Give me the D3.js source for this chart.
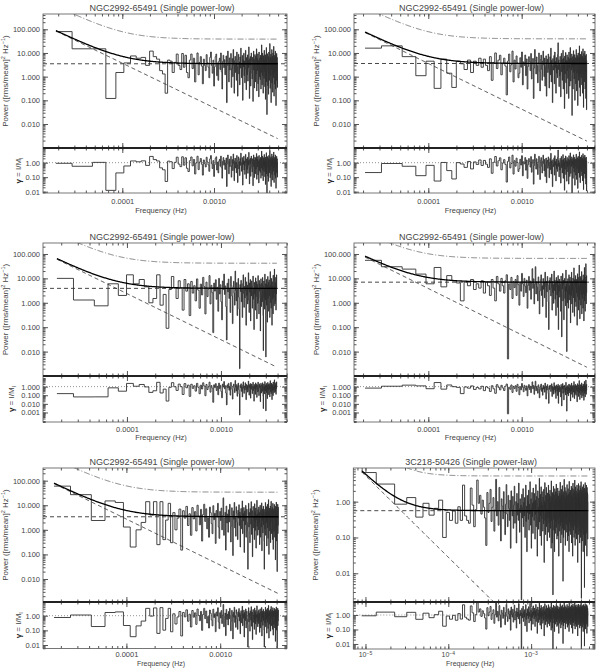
<!DOCTYPE html>
<html><head><meta charset="utf-8">
<script src="https://cdn.jsdelivr.net/npm/d3@7"></script>
<style>
body{margin:0;background:#fff}
svg text{font-family:"Liberation Sans",Arial,sans-serif;fill:#444}
.tick text{font-size:7.5px}
.tick line{stroke:#555}
.data{fill:none;stroke:#303030;stroke-width:0.9}
.model{fill:none;stroke:#000;stroke-width:1.3}
.pl{fill:none;stroke:#333;stroke-width:0.9;stroke-dasharray:4,3}
.sig{fill:none;stroke:#666;stroke-width:0.8;stroke-dasharray:6,2,1,2}
.unit{fill:none;stroke:#777;stroke-width:0.8;stroke-dasharray:1,2}
.box{fill:none;stroke:#555;stroke-width:0.8}
</style></head><body>
<script>
// power spectra (rms/mean)^2 Hz^-1, one value per Fourier frequency k*df
const power1=[80,15,15,0.12,1.5,3.8,7.5,6,6.5,3,12,7,5.5,1.8,1.3,0.2,5,4.5,1.5,4,9,3,2,9.5,2.5,8,1.5,0.9,5,9,
2.2,6,0.6,3.5,10,1.2,4,7,2.8,0.5,5.5,3,1.8,8.5,4,2.5,0.9,6.5,11,3,1.4,5,0.4,2.6,7,9,1.1,3.8,0.7,4.5,
6,2,10,1.6,0.3,4.4,8,2.4,5.2,1.2,3.3,7.5,0.08,2.9,12,4.1,0.6,6.2,1.9,3.6,9.5,0.35,2.2,5.8,1.0,14,3.1,0.2,4.8,7.2,
1.5,3.9,0.7,11,2.7,0.15,5.3,8.8,1.3,4.2,0.45,6.8,2.3,16,3.4,0.9,1.7,7.9,0.1,5,2.6,9.8,1.1,4.6,0.55,3.2,13,2.1,0.28,6.4,
3.7,1.2,8.3,0.65,4.9,2.4,18,1.6,0.12,5.7,3,7.1,0.4,2,10,4.3,1.4,0.8,6.6,2.9,0.09,4,12,1.9,5.4,0.33,3.5,8.6,2.2,0.6,
7.3,1.3,4.4,15,0.25,3.1,6,1.8,9.2,0.5,2.7,4.7,0.14,11,3.3,1.0,5.9,2.5,0.75,8.1,3.9,0.3,6.9,1.5,22,2.8,0.45,4.1,9.9,1.1,
3.6,0.2,7.7,2.3,5.1,0.85,13,1.7,4.5,0.38,2.9,8.4,0.11,6.3,3.2,1.2,17,0.6,4.8,0.025,2.1,5.5,9.3,1.6,0.42,3.8,7,0.18,2.6,11,
1.4,5.2,0.7,3.4,25,2,0.32,6.7,4,1.1,8.9,0.08,3,5.8,1.9,14,0.55,4.3,2.4,7.4,0.22,3.6,10,1.3,5,0.9,19,2.7,0.15,6.1,
3.3,1.5,8,0.48,4.7,2.1,12,0.3,5.6,3.1,0.06,7.2,1.8,4.4,9.6,0.7,2.5,6.5,1.2,0.35,3.9];
const power2=[16,20,7,1.1,4.5,0.32,5.5,1.4,0.35,4.5,3.5,2,5,1.5,4.5,3,6,2.5,5.5,3,1.8,7,0.7,4,10,2.2,5,8,1.2,3.5,
6,2.8,0.17,4.5,9,1.6,3.2,12,0.6,5,2.1,7.5,3.8,0.9,1.4,6.3,2.5,11,0.45,4.2,3,8.2,1.1,5.6,0.3,2.7,7,4.4,1.8,9.5,
0.8,3.4,5.9,0.12,2.3,14,4.8,1.3,6.8,2.9,0.55,3.9,10,1.7,0.25,5.3,8.1,2,0.7,4.6,12,3.1,1,6.1,0.4,2.6,7.6,0.15,4.1,5.5,
1.5,9,2.2,0.33,3.7,6.9,1.2,16,0.6,4.9,2.8,0.08,5.8,3.3,1.9,7.8,0.5,11,2.4,4.3,0.2,6.4,1.4,3,0.9,8.7,27,2,5.1,0.38,
3.5,1.1,7.2,4.6,0.14,2.6,9.7,1.6,5.4,0.7,3.2,13,0.3,6,2.1,4,0.045,7.4,1.3,3.8,10.5,0.55,5,2.9,0.19,8.3,1.8,4.4,0.85,6.6,
3.1,0.12,11,2.3,5.6,0.4,4.2,17,1.2,0.65,6.2,3.4,1.9,9.1,0.023,4.7,2.5,7,0.3,3.6,12.5,1.5,5.2,0.8,2.7,8.5,0.1,4,6.3,1.7,
0.5,3.9,14,2.2,0.25,5.9,1.4,7.9,3.2,0.06,4.8,10,2,0.7,6.5,1.1,3.5,20,0.35,5.4,2.6,0.15,8.9,4.1,1.3,6.9,0.9,2.9,11.5,0.45,
4.5,1.8,7.3,0.2,3.3,15,2.4,5.7,0.05,3.7,9.4,1.2,6,0.6,2.8,12,4.3,0.3,7.7,1.6,5,0.12,3.4,8.8,2,0.04,4.8];
const power3=[10,1.3,0.75,6,2,14,6,9,4.5,1.0,1.5,14,0.8,2.2,0.09,3.5,12,4,1.5,8,4,0.5,9,3,6,0.3,7.5,2.5,5,1.2,
9.5,3.3,0.6,5.8,2.1,11,4.6,0.35,7,1.8,3.7,13,0.9,5.2,2.6,0.06,6.4,3,8.8,1.4,4.3,0.45,10,2.3,5.5,1.1,0.2,7.8,3.5,15,
2.2,4.9,0.7,0.03,6.3,2.8,9.4,1.5,3.9,0.4,12,5.1,1.9,0.14,4.4,7.6,2.5,0.8,20,3.2,1.2,6.7,0.3,4,9.9,1.7,0.55,0.002,5.6,2.9,
8.3,1.1,3.6,0.25,6.1,14,2.4,0.65,4.7,1.6,11,3.1,0.12,7.2,2,5.3,0.9,3.4,17,1.3,0.4,6.5,2.7,9,0.18,4.2,1.9,7.9,3,0.6,
5,12.5,1.4,3.8,0.08,6.9,2.3,4.5,0.5,10.5,1.8,3.3,7.4,0.22,5.7,2.6,0.95,13,4.1,1.2,0.35,8.2,3,5.9,1.6,0.07,4.8,9.6,2.1,0.7,
6.3,3.5,1.1,11,2.5,0.3,0.011,5.2,7.8,1.7,4.1,0.55,15,2.9,1.3,6,0.006,3.7,9.1,0.8,2.2,5.5,0.16,4.3,12,1.5,3.1,7,0.45,2.7,
8.7,1.9,4.6,0.25,6.6,19,3.2,1,5.4,0.6,2.4,10,3.8,0.12,7.3,1.4,4.9,2.1,0.35,13.5,5.8,1.6,3.5,0.75,8,24,2.6,4.4,0.9,6.8,
1.2,3.4,11,0.5,5.1,2.3,14,4];
const power4=[55,30,24,15,6,28,4.5,13,8,6.5,1.2,7,5,9,3.5,6,4,8,2.5,7,5,2,9,4,1.2,12,6,3,10,5,
2.5,8,14,0.005,6,3.5,11,1.5,7.5,4.2,9,2,13,5.5,0.8,7,3,16,6,1.8,10,4.8,2.6,8.5,0.6,5.2,12,3.3,7.8,1.4,
6.5,25,3.9,9.6,0.9,5.8,30,2.3,7.2,4.4,1.2,11.5,6,0.35,3.1,8.8,14,2,5,0.7,9.9,3.6,6.9,1.6,18,4.7,0.25,7.6,2.8,12,
5.3,1.1,0.08,8.2,3.4,10.7,6.2,1.9,4.1,15,0.5,7.4,2.6,5.6,0.95,20,3.2,8.6,1.4,6.6,0.3,11,4.5,2.1,7.9,0.65,13,0.08,5.1,3,
9.3,1.7,6.1,4,0.45,12.5,2.4,0.04,7,3.7,16,1.2,5.4,8.4,0.2,3.1,10,6.8,1.5,4.6,0.75,22,2.9,5.9,0.01,7.5,3.5,1,9.7,4.2,
0.6,6.3,14,2.2,5,1.3,11.2,3.8,0.15,8,4.9,2,18,0.9,6.7,3.3,7.3,0.4,10.3,5.5,1.6,4.3,27,2.7,0.28,8.9,6,1.1,3.9,13,
5.1,0.7,7.8,2.5,9.2,4.1,0.12,6.4,15.5,1.8,3.6,11,0.5,5.7,2.9,8.1,35,1.3,4.7,0.22,7.1,12,3.2,6.3,0.8,10,2.1,5.2,19,0.35,
4.4,8.6,1.5,6.8,3,0.6,14,5.3,2.3,9.4,0.18,7.2,4,28,1.2,5.8,11.5,0.45,3.5,8.2,2,40,6.1,0.9,4.8,13,2.6];
const power5=[60,27,2.4,15,13,1.3,0.2,1.0,2.0,14,4,14,0.25,14,0.4,2.5,12,0.3,5,1.0,3,7,0.15,6,3,9,1.5,4.5,0.6,8,
2.8,5.5,0.9,10,3.6,1.6,6.8,0.35,4.2,11,2.2,7.2,1.1,3.1,0.5,8.4,5,1.8,0.7,9.6,2.6,4.7,0.28,6.1,3.3,12,1.3,0.45,5.6,2.4,
7.7,1,3.8,20,0.6,2.9,5.2,0.15,9.3,1.9,4.4,0.8,6.5,2.1,11,3.5,0.32,1.4,7.9,4.1,0.09,5.9,2.7,13,1.2,3.2,0.55,8.7,4.8,2,
0.4,6.3,3,10.5,1.5,5.3,0.2,3.9,7.4,1.1,2.5,15,0.7,4.6,2.3,8.1,0.12,5.7,3.4,1.6,9.9,0.5,4.2,6.9,2,0.85,0.025,3.7,12,1.3,
5.1,2.8,0.3,7.3,4,1.7,14,0.65,3.2,6,0.08,2.4,9,4.9,1.2,3.6,0.4,11.5,2.2,5.5,0.95,7.7,0.18,3.9,2.6,16,1.4,4.5,0.6,6.6,
3.1,1,8.5,2,5.1,0.25,4.3,10,1.8,0.5,6.3,3.3,1.3,12.5,0.14,4.7,2.4,7.1,0.75,3.5,9.2,1.6,5.6,0.35,0.025,2.9,6.8,1.1,4.1,13,
0.6,3,5.3,1.9,8.8,0.22,4.4,2.5,11,1.2,6.2,0.45,3.7,17,2.1,0.1,5.8,3.2,7.6,0.9,4.6,1.5,9.4,0.3,2.7,5.4,14.5,1.1,0.7,6.7,
3.6,2,8.1,0.4,4.8,12,1.4,0.16,5.9,3,7.2,0.85,2.3,10.8,4.3,0.5,1.7,6.4,3.4,0.06,9.1,2.6,5,1.2,13.5,0.35,4,7.9,1.8,0.02,
5.5,2.9,11,0.7,3.8,8.3,1.5];
const power6=[6.5,3.1,0.85,1.3,0.37,0.9,0.42,0.65,1.1,0.1,0.5,0.3,0.55,0.25,0.72,0.3,2.9,0.4,0.3,0.25,2.4,0.8,0.2,0.6,4,0.9,1.5,0.45,1.1,0.7,
0.35,0.06,1.8,0.5,0.9,2.2,0.28,0.7,1.3,0.15,0.6,4.2,0.4,1,0.22,2.5,0.55,0.08,1.2,0.75,0.33,1.9,0.5,0.12,0.85,3,0.45,0.2,1.5,0.65,
0.3,1.1,0.05,2,0.6,0.4,1.4,0.18,0.8,2.7,0.25,0.55,1,0.07,1.7,0.42,0.9,0.3,3.3,0.65,0.14,1.2,0.5,0.8,0.0018,1.6,0.35,0.7,2.3,0.2,
0.95,0.4,1.3,0.1,0.6,2.9,0.28,0.75,0.04,1.5,0.5,1.05,0.32,2.1,0.16,0.85,0.45,3.6,0.6,0.22,1.2,0.05,0.7,1.8,0.38,0.9,0.13,2.4,0.55,1,
0.3,1.7,0.62,0.09,1.1,0.44,3,0.2,0.8,1.4,0.35,0.03,0.95,2,0.5,0.7,0.17,1.25,0.58,4.5,0.27,0.88,0.11,1.6,0.41,0.74,2.6,0.06,1,0.33,
1.9,0.52,0.8,0.15,1.35,0.68,0.24,2.2,0.46,0.02,1.05,0.6,3.4,0.3,0.9,0.12,1.5,0.38,0.72,2.5,0.2,1.15,0.5,0.08,0.83,1.75,0.34,0.64,0.14,2.9,
0.45,1.2,0.26,0.78,1.6,0.1,0.55,2.1,0.36,0.92,0.18,1.4,0.63,0.05,3.8,0.29,0.86,1.1,0.42,0.07,1.8,0.58,0.22,0.0025,1.3,0.7,2.7,0.32,0.95,0.16,
1.55,0.48,0.04,0.81,2.3,0.37,1.1,0.13,0.66,1.9,0.28,0.9,0.55,3.1,0.19,1.25,0.4,0.09,0.75,1.65,0.31,0.6,2.4,0.11,1,0.5,0.24,1.45,0.7,0.03,
0.88,2,0.35,1.15,0.6,0.15,1.7,0.43,0.8,3.5,0.21,1.05,0.52,0.07,1.35,0.65,0.27,2.2,0.46,0.94,0.12,1.5,0.38,0.73,2.8,0.18,1.2,0.57,0.33,0.006,
1.6,0.49,0.85,0.1,1.9,0.62,0.3,1.1,4.2,0.4,0.77,0.16,1.4,0.55,2.5,0.25,0.96,0.06,1.25,0.45,0.7,2,0.34,1.05,0.14,0.82,1.75,0.5,0.23,1.3,
0.6,3,0.37,0.9,0.08,1.5,0.53,1.15,0.2,0.74,2.3,0.42,0.97,0.11,1.65,0.58,0.32,1.25,0.04,0.86,3.7,0.47,1.05,0.26,0.68,1.85,0.15,1.35,0.56,0.9,
0.3,2.1,0.72,0.12,1.2,0.5,1.55,0.22,0.88,2.7,0.4,0.65,0.07,1.45,0.6,1,0.35,2.4,0.19,0.8,1.3,0.45,0.03,1.1,0.63,3.3,0.28,0.92,0.5,1.7,
0.16,1.15,0.55,0.84,2.2,0.38,0.1,1.4,0.67,1.9,0.3,0.98,0.46,4,0.21,1.25,0.58,0.06,0.9,1.6,0.4,0.75,2.6,0.13,1.05,0.52,1.35,0.25,0.7,2,
0.44,0.95,0.09,1.5,0.6,1.1,0.33,2.9,0.5,0.82,0.18,1.3,0.64,1.75,0.27,0.02,1.05,0.48,2.3,0.71,0.36,1.2,0.12,0.9,3.2,0.55,1.45,0.24,0.8,1.6,
0.4,1,0.15,2.1,0.62,1.3,0.3,0.87,0.07,1.8,0.5,1.15,2.8,0.35,0.76,0.2,1.5,0.58,0.95,0.1,2.4,0.45,1.25,0.68,0.28,3.6,0.85,0.14,1.4,0.002,
0.6,1.9,0.42,1.05,0.22,0.78,2.2,0.32,1.2,0.55,0.08,1.65,0.7,0.96,0.38,2.6,0.17,1.35,0.5,0.88,1.5,0.26,0.04,1.1,0.64,3,0.4,0.8,1.7,0.12,
0.93,0.48,2,0.3,1.25,0.66,0.19,1.45,0.57,0.004,1.05,2.4,0.36,0.84,0.1,1.6,0.52,1.15,0.27,3.4,0.72,0.44,1.3,0.06,0.9,1.85,0.34,0.62,1,0.2,
2.2,0.5,1.4,0.75,0.13,1.1,0.4,2.9,0.58,0.95,0.24,1.55,0.68,0.03,1.2,0.46,2.5,0.85,0.31,1.35,0.6,0.16,1.8,0.53,1,0.09,1.6];
const powers=[power1,power2,power3,power4,power5,power6];

const titles=["NGC2992-65491 (Single power-low)","NGC2992-65491 (Single power-low)","NGC2992-65491 (Single power-low)",
  "NGC2992-65491 (Single power-low)","NGC2992-65491 (Single power-low)","3C218-50426 (Single power-law)"];
const binWidth=[1.89e-5,2.1e-5,1.8e-5,2.1e-5,1.69e-5,9.0e-6];   // Hz
// fitted model: constant + power law, and the significance curve
const contLevel=[3.5,3.6,3.9,7.0,3.4,0.56];
const pivotFreq=[1.03e-4,1.0e-4,7.7e-5,7.3e-5,8.9e-5,2.69e-5];
const slope=[1.88,1.93,1.89,1.9,1.87,2.28];
const sigFactor=[11,11,10.7,9.4,10,9.3];
const mainTicks=[[0.01,0.1,1,10,100],[0.01,0.1,1,10,100],[0.01,0.1,1,10,100],[0.01,0.1,1,10,100],[0.01,0.1,1,10,100],[0.01,0.1,1]];
const residTicks=[[0.01,0.1,1],[0.01,0.1,1],[0.001,0.01,0.1,1],[0.001,0.01,0.1,1],[0.01,0.1,1],[0.01,0.1,1]];
const freqTicks=[[1e-4,1e-3],[1e-4,1e-3],[1e-4,1e-3],[1e-4,1e-3],[1e-4,1e-3],[1e-5,1e-4,1e-3]];

let layout=[
 {left:43,right:287,top:14,mid:148,bottom:193,xd:[1.365e-5,6.25e-3],yd:[9.7e-4,443],rd:[0.0081,10.3],mf:".3f",rf:".2f",tl:11,fl:20,rl:22},
 {left:354,right:595,top:14,mid:148,bottom:193,xd:[1.6e-5,6.1e-3],yd:[9.7e-4,443],rd:[0.0081,10.3],mf:".3f",rf:".2f",tl:11,fl:20,rl:22},
 {left:43,right:287,top:243,mid:376,bottom:422,xd:[1.28e-5,5.04e-3],yd:[1e-3,282],rd:[7.9e-5,17],mf:".3f",rf:".3f",tl:10,fl:18,rl:29},
 {left:354,right:595,top:243,mid:376,bottom:422,xd:[1.6e-5,6.1e-3],yd:[1e-3,282],rd:[7.9e-5,17],mf:".3f",rf:".3f",tl:10,fl:18,rl:29},
 {left:43,right:287,top:468,mid:602,bottom:648.5,xd:[1.29e-5,5.16e-3],yd:[1.16e-3,328],rd:[0.0058,8.6],mf:".3f",rf:".2f",tl:8.5,fl:17,rl:22},
 {left:353.3,right:595,top:468,mid:602,bottom:649,xd:[7.13e-6,5.91e-3],yd:[1.58e-3,8.7],rd:[0.0045,7.9],mf:".2f",rf:".2f",tl:8,fl:17,rl:22}
];

function logTicks(d){
  let v=[];
  for(let e=Math.floor(Math.log10(d[0]));e<=Math.ceil(Math.log10(d[1]));e++)
    for(let m=1;m<10;m++){let t=m*Math.pow(10,e); if(t>=d[0]&&t<=d[1]) v.push(t);}
  return v;
}
// IDL psym=10 histogram: flat step around each point, edges at midpoints
function stepPoints(f,v){
  let pts=[],n=f.length;
  for(let i=0;i<n;i++){
    let a=i===0?f[0]:(f[i-1]+f[i])/2, b=i===n-1?f[n-1]:(f[i]+f[i+1])/2;
    pts.push([a,v[i]],[b,v[i]]);
  }
  return pts;
}
function axisPair(g,axis,tr,scale,majors,fmt,pad){
  g.append("g").attr("transform",tr)
    .call(axis(scale).tickValues(logTicks(scale.domain())).tickSize(-2.5).tickFormat(""))
    .call(s=>s.select(".domain").remove());
  g.append("g").attr("transform",tr)
    .call(axis(scale).tickValues(majors).tickSize(-5).tickPadding(pad||3).tickFormat(fmt?d3.format(fmt):""))
    .call(s=>s.select(".domain").remove());
}

const svg=d3.select("body").append("svg").attr("width",600).attr("height",670);
const defs=svg.append("defs");

layout.forEach((L,i)=>{
  let P=powers[i],n=P.length,df=binWidth[i];
  let freq=P.map((_,k)=>(k+1)*df);
  let C=contLevel[i],f0=pivotFreq[i],a=slope[i];
  let pl=f=>C*Math.pow(f/f0,-a);
  let model=f=>C+pl(f);
  let gam=P.map((p,k)=>p/model(freq[k]));

  let x=d3.scaleLog().domain(L.xd).range([L.left,L.right]);
  let y=d3.scaleLog().domain(L.yd).range([L.mid,L.top]);
  let r=d3.scaleLog().domain(L.rd).range([L.bottom,L.mid]);

  defs.append("clipPath").attr("id","cm"+i).append("rect")
    .attr("x",L.left).attr("y",L.top).attr("width",L.right-L.left).attr("height",L.mid-L.top);
  defs.append("clipPath").attr("id","cr"+i).append("rect")
    .attr("x",L.left).attr("y",L.mid).attr("width",L.right-L.left).attr("height",L.bottom-L.mid);

  let g=svg.append("g");
  let fs=d3.range(0,301).map(j=>freq[0]*Math.pow(freq[n-1]/freq[0],j/300));
  let curve=fn=>d3.line().x(f=>x(f)).y(f=>y(fn(f)))(fs);
  let step=d3.line().x(d=>x(d[0]));

  let m=g.append("g").attr("clip-path",`url(#cm${i})`);
  m.append("path").attr("class","data").attr("d",step.y(d=>y(d[1]))(stepPoints(freq,P)));
  m.append("path").attr("class","pl").attr("d",d3.line().x(f=>x(f)).y(()=>y(C))(L.xd));
  m.append("path").attr("class","pl").attr("d",curve(pl));
  m.append("path").attr("class","sig").attr("d",curve(f=>sigFactor[i]*model(f)));
  m.append("path").attr("class","model").attr("d",curve(model));

  let rg=g.append("g").attr("clip-path",`url(#cr${i})`);
  rg.append("path").attr("class","unit").attr("d",d3.line().x(f=>x(f)).y(()=>r(1))(L.xd));
  rg.append("path").attr("class","data").attr("d",d3.line().x(d=>x(d[0])).y(d=>r(d[1]))(stepPoints(freq,gam)));

  g.append("rect").attr("class","box").attr("x",L.left).attr("y",L.top)
    .attr("width",L.right-L.left).attr("height",L.bottom-L.top);

  // ticks on all four sides of both frames
  axisPair(g,d3.axisLeft,`translate(${L.left},0)`,y,mainTicks[i],L.mf);
  axisPair(g,d3.axisRight,`translate(${L.right},0)`,y,mainTicks[i]);
  axisPair(g,d3.axisTop,`translate(0,${L.top})`,x,freqTicks[i]);
  axisPair(g,d3.axisBottom,`translate(0,${L.mid})`,x,freqTicks[i]);
  axisPair(g,d3.axisLeft,`translate(${L.left},0)`,r,residTicks[i],L.rf);
  axisPair(g,d3.axisRight,`translate(${L.right},0)`,r,residTicks[i]);
  axisPair(g,d3.axisTop,`translate(0,${L.mid})`,x,freqTicks[i]);
  axisPair(g,d3.axisBottom,`translate(0,${L.bottom})`,x,freqTicks[i],i<5?".4f":null,L.tl-5.3);

  if(i===5){
    freqTicks[i].forEach(v=>{
      let t=g.append("text").attr("x",x(v)).attr("y",L.bottom+L.tl).attr("text-anchor","middle").style("font-size","7px");
      t.append("tspan").text("10");
      t.append("tspan").attr("dy",-2.5).style("font-size","5px").text("\u2212"+Math.round(-Math.log10(v)));
    });
  }

  g.append("line").attr("x1",L.left).attr("x2",L.right).attr("y1",L.mid).attr("y2",L.mid)
    .attr("stroke","#222").attr("stroke-width",1.8);

  let cx=(L.left+L.right)/2;
  g.append("text").attr("x",cx-3).attr("y",L.top-3).attr("text-anchor","middle")
    .style("font-size","9px").text(titles[i]);
  g.append("text").attr("x",cx-4).attr("y",L.bottom+L.fl).attr("text-anchor","middle")
    .style("font-size",i>3?"7px":"7.5px").text("Frequency (Hz)");

  let yl=g.append("text").attr("transform",`translate(${L.left-35},${(L.top+L.mid)/2}) rotate(-90)`)
    .attr("text-anchor","middle").style("font-size","8px");
  yl.append("tspan").text("Power ([rms/mean]");
  yl.append("tspan").attr("dy",-3).style("font-size","5.5px").text("2");
  yl.append("tspan").attr("dy",3).text(" Hz");
  yl.append("tspan").attr("dy",-3).style("font-size","5.5px").text("\u22121");
  yl.append("tspan").attr("dy",3).text(")");

  let rl=g.append("text").attr("transform",`translate(${L.left-L.rl},${(L.mid+L.bottom)/2}) rotate(-90)`)
    .attr("text-anchor","middle").style("font-size","8px");
  rl.append("tspan").style("font-weight","bold").style("fill","#222").text("\u03b3");
  rl.append("tspan").text(" = I/M");
  rl.append("tspan").attr("dy",2).style("font-size","5.5px").text("I");
});
</script>
</body></html>
